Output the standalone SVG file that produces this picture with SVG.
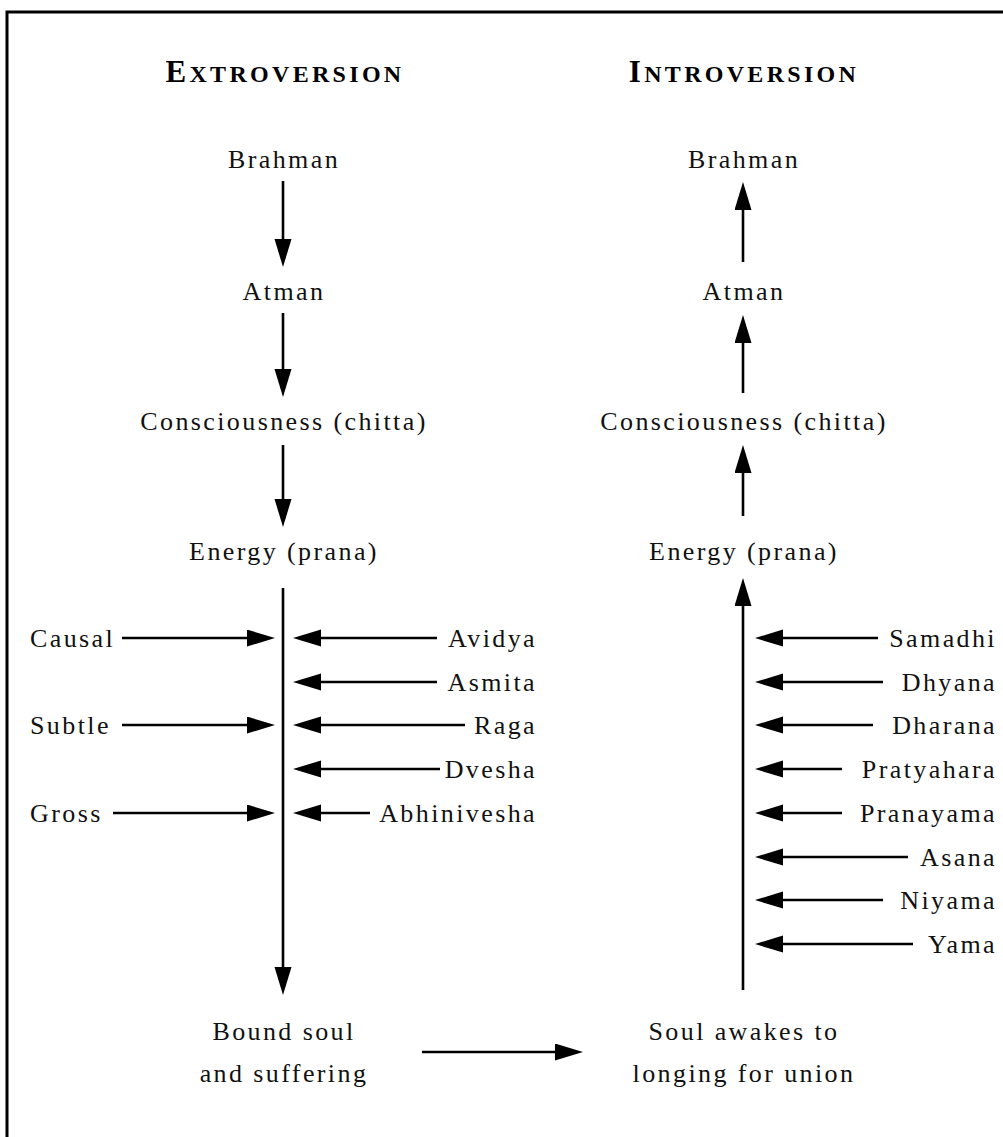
<svg xmlns="http://www.w3.org/2000/svg" width="1003" height="1137" viewBox="0 0 1003 1137">
<style>
.t{font-family:"Liberation Serif","DejaVu Serif",serif;font-size:26px;letter-spacing:2.4px;fill:#111}
.m{text-anchor:middle}
.e{text-anchor:end}
.h{font-family:"Liberation Serif","DejaVu Serif",serif;font-weight:bold;letter-spacing:3.3px;fill:#000;text-anchor:middle}
.c line{stroke:#000;stroke-width:2.6;marker-end:url(#ah)}
</style>
<defs>
<marker id="ah" markerUnits="userSpaceOnUse" markerWidth="30" markerHeight="20" refX="20" refY="8.5" orient="auto">
<path d="M0,0 L28,8.5 L0,17 Z" fill="#000"/>
</marker>
</defs>
<rect width="1003" height="1137" fill="#fff"/>
<path d="M7,1137 V12 H1003" fill="none" stroke="#000" stroke-width="3"/>

<g id="title-extroversion"><text class="h" x="285" y="82"><tspan font-size="31">E</tspan><tspan font-size="24">XTROVERSION</tspan></text></g>
<g id="title-introversion"><text class="h" x="744" y="82"><tspan font-size="31">I</tspan><tspan font-size="24">NTROVERSION</tspan></text></g>

<g id="ex-brahman"><text class="t m" x="284" y="168">Brahman</text></g>
<g id="ex-atman"><text class="t m" x="284" y="300">Atman</text></g>
<g id="ex-consciousness"><text class="t m" x="284" y="430">Consciousness (chitta)</text></g>
<g id="ex-energy"><text class="t m" x="284" y="560">Energy (prana)</text></g>
<g id="ex-bound"><text class="t m" x="284" y="1040">Bound soul</text><text class="t m" x="284" y="1082">and suffering</text></g>

<g id="in-brahman"><text class="t m" x="744" y="168">Brahman</text></g>
<g id="in-atman"><text class="t m" x="744" y="300">Atman</text></g>
<g id="in-consciousness"><text class="t m" x="744" y="430">Consciousness (chitta)</text></g>
<g id="in-energy"><text class="t m" x="744" y="560">Energy (prana)</text></g>
<g id="in-soul"><text class="t m" x="744" y="1040">Soul awakes to</text><text class="t m" x="744" y="1082">longing for union</text></g>

<g id="causal"><text class="t" x="30" y="647">Causal</text></g>
<g id="subtle"><text class="t" x="30" y="734">Subtle</text></g>
<g id="gross"><text class="t" x="30" y="822">Gross</text></g>

<g id="avidya"><text class="t e" x="537" y="647">Avidya</text></g>
<g id="asmita"><text class="t e" x="537" y="691">Asmita</text></g>
<g id="raga"><text class="t e" x="537" y="734">Raga</text></g>
<g id="dvesha"><text class="t e" x="537" y="778">Dvesha</text></g>
<g id="abhinivesha"><text class="t e" x="537" y="822">Abhinivesha</text></g>

<g id="samadhi"><text class="t e" x="997" y="647">Samadhi</text></g>
<g id="dhyana"><text class="t e" x="997" y="691">Dhyana</text></g>
<g id="dharana"><text class="t e" x="997" y="734">Dharana</text></g>
<g id="pratyahara"><text class="t e" x="997" y="778">Pratyahara</text></g>
<g id="pranayama"><text class="t e" x="997" y="822">Pranayama</text></g>
<g id="asana"><text class="t e" x="997" y="866">Asana</text></g>
<g id="niyama"><text class="t e" x="997" y="909">Niyama</text></g>
<g id="yama"><text class="t e" x="997" y="953">Yama</text></g>

<g id="connectors" class="c">
<line x1="283" y1="181" x2="283" y2="259"/>
<line x1="283" y1="313" x2="283" y2="389"/>
<line x1="283" y1="445" x2="283" y2="519"/>
<line x1="283" y1="588" x2="283" y2="987"/>

<line x1="743" y1="262" x2="743" y2="190"/>
<line x1="743" y1="393" x2="743" y2="323"/>
<line x1="743" y1="516" x2="743" y2="453"/>
<line x1="743" y1="990" x2="743" y2="586"/>

<line x1="122" y1="638" x2="267" y2="638"/>
<line x1="122" y1="725" x2="267" y2="725"/>
<line x1="113" y1="813" x2="267" y2="813"/>

<line x1="437" y1="638" x2="301" y2="638"/>
<line x1="437" y1="682" x2="301" y2="682"/>
<line x1="465" y1="725" x2="301" y2="725"/>
<line x1="440" y1="769" x2="301" y2="769"/>
<line x1="370" y1="813" x2="301" y2="813"/>

<line x1="878" y1="638" x2="763" y2="638"/>
<line x1="883" y1="682" x2="763" y2="682"/>
<line x1="873" y1="725" x2="763" y2="725"/>
<line x1="842" y1="769" x2="763" y2="769"/>
<line x1="842" y1="813" x2="763" y2="813"/>
<line x1="908" y1="857" x2="763" y2="857"/>
<line x1="883" y1="900" x2="763" y2="900"/>
<line x1="913" y1="944" x2="763" y2="944"/>

<line x1="422" y1="1052" x2="575" y2="1052"/>
</g>
</svg>
